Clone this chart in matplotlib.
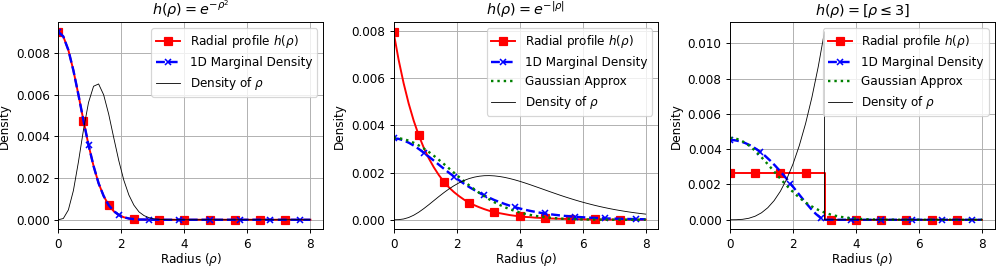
import numpy as np
import matplotlib
matplotlib.use("Agg")
import matplotlib.pyplot as plt

# shared radius grid (0 .. 8, step 0.16)
radius = np.linspace(0, 8, 51)

# ---------- panel 1: h = exp(-rho^2) ----------
profile1 = [0.00903, 0.00880, 0.00815, 0.00717, 0.00600, 0.00476, 0.00359, 0.00258, 0.00175, 0.00114,
            0.00070, 0.00041, 0.00023, 0.00012, 0.00006, 0.00003, 0.00001, 0.00001, 0.0, 0.0,
            0.0, 0.0, 0.0, 0.0, 0.0, 0.0, 0.0, 0.0, 0.0, 0.0,
            0.0, 0.0, 0.0, 0.0, 0.0, 0.0, 0.0, 0.0, 0.0, 0.0,
            0.0, 0.0, 0.0, 0.0, 0.0, 0.0, 0.0, 0.0, 0.0, 0.0,
            0.0]
marginal1 = [0.00903, 0.00880, 0.00815, 0.00717, 0.00600, 0.00476, 0.00359, 0.00258, 0.00175, 0.00114,
             0.00070, 0.00041, 0.00023, 0.00012, 0.00006, 0.00003, 0.00001, 0.00001, 0.0, 0.0,
             0.0, 0.0, 0.0, 0.0, 0.0, 0.0, 0.0, 0.0, 0.0, 0.0,
             0.0, 0.0, 0.0, 0.0, 0.0, 0.0, 0.0, 0.0, 0.0, 0.0,
             0.0, 0.0, 0.0, 0.0, 0.0, 0.0, 0.0, 0.0, 0.0, 0.0,
             0.0]
density1 = [0.0, 0.00006, 0.00047, 0.00140, 0.00278, 0.00432, 0.00563, 0.00641, 0.00652, 0.00600,
            0.00507, 0.00394, 0.00284, 0.00190, 0.00119, 0.00070, 0.00038, 0.00020, 0.00010, 0.00004,
            0.00002, 0.00001, 0.0, 0.0, 0.0, 0.0, 0.0, 0.0, 0.0, 0.0,
            0.0, 0.0, 0.0, 0.0, 0.0, 0.0, 0.0, 0.0, 0.0, 0.0,
            0.0, 0.0, 0.0, 0.0, 0.0, 0.0, 0.0, 0.0, 0.0, 0.0,
            0.0]

# ---------- panel 2: h = exp(-|rho|) ----------
profile2 = [0.00797, 0.00679, 0.00579, 0.00493, 0.00420, 0.00358, 0.00305, 0.00260, 0.00222, 0.00189,
            0.00161, 0.00137, 0.00117, 0.00100, 0.00085, 0.00072, 0.00062, 0.00053, 0.00045, 0.00038,
            0.00032, 0.00028, 0.00024, 0.00020, 0.00017, 0.00015, 0.00012, 0.00011, 0.00009, 0.00008,
            0.000066, 0.000056, 0.000048, 0.000041, 0.000035, 0.000029, 0.000025, 0.000021, 0.000018, 0.000016,
            0.000013, 0.000011, 0.000010, 0.000008, 0.000007, 0.000006, 0.000005, 0.000004, 0.000004, 0.000003,
            0.000003]
marginal2 = [0.003450, 0.003429, 0.003364, 0.003267, 0.003146, 0.003002, 0.002843, 0.002674, 0.002505, 0.002332,
             0.002160, 0.001991, 0.001832, 0.001673, 0.001525, 0.001387, 0.001263, 0.001142, 0.001032, 0.000932,
             0.000835, 0.000752, 0.000673, 0.000600, 0.000538, 0.000480, 0.000428, 0.000380, 0.000339, 0.000300,
             0.000266, 0.000236, 0.000209, 0.000184, 0.000163, 0.000144, 0.000127, 0.000112, 0.000099, 0.000087,
             0.000076, 0.000067, 0.000059, 0.000052, 0.000046, 0.000040, 0.000035, 0.000030, 0.000027, 0.000023,
             0.000020]
gauss2 = [0.003470, 0.003457, 0.003417, 0.003352, 0.003262, 0.003151, 0.003020, 0.002873, 0.002711, 0.002539,
          0.002360, 0.002176, 0.001992, 0.001809, 0.001630, 0.001458, 0.001293, 0.001139, 0.000995, 0.000863,
          0.000742, 0.000634, 0.000537, 0.000451, 0.000377, 0.000312, 0.000256, 0.000209, 0.000169, 0.000136,
          0.000108, 0.000085, 0.000067, 0.000052, 0.000040, 0.000031, 0.000023, 0.000018, 0.000013, 0.000010,
          0.000007, 0.000005, 0.000004, 0.000003, 0.000002, 0.000001, 0.000001, 0.000001, 0.0, 0.0,
          0.0]
density2 = [0.0, 0.000005, 0.000033, 0.000095, 0.000192, 0.000320, 0.000472, 0.000638, 0.000812, 0.000985,
            0.001151, 0.001306, 0.001444, 0.001565, 0.001666, 0.001746, 0.001805, 0.001845, 0.001867, 0.001871,
            0.001859, 0.001834, 0.001797, 0.001750, 0.001694, 0.001632, 0.001564, 0.001493, 0.001418, 0.001343,
            0.001267, 0.001191, 0.001117, 0.001043, 0.000972, 0.000904, 0.000838, 0.000775, 0.000716, 0.000660,
            0.000606, 0.000556, 0.000510, 0.000466, 0.000425, 0.000388, 0.000353, 0.000321, 0.000291, 0.000264,
            0.000239]

# ---------- panel 3: h = [rho <= 3] ----------
profile3_r = [0.0, 0.8, 1.6, 2.4, 3.0, 3.0, 3.2, 4.0, 4.8, 5.6, 6.4, 7.2, 8.0]
profile3 = [0.00266, 0.00266, 0.00266, 0.00266, 0.00266, 0.0, 0.0, 0.0, 0.0, 0.0, 0.0, 0.0, 0.0]
marginal3 = [0.004527, 0.004508, 0.004450, 0.004354, 0.004221, 0.004053, 0.003850, 0.003614, 0.003349, 0.003056,
             0.002740, 0.002404, 0.002054, 0.001694, 0.001332, 0.000978, 0.000642, 0.000340, 0.000099, 0.0,
             0.0, 0.0, 0.0, 0.0, 0.0, 0.0, 0.0, 0.0, 0.0, 0.0,
             0.0, 0.0, 0.0, 0.0, 0.0, 0.0, 0.0, 0.0, 0.0, 0.0,
             0.0, 0.0, 0.0, 0.0, 0.0, 0.0, 0.0, 0.0, 0.0, 0.0,
             0.0]
gauss3 = [0.004650, 0.004618, 0.004523, 0.004369, 0.004163, 0.003911, 0.003625, 0.003313, 0.002986, 0.002655,
          0.002328, 0.002013, 0.001717, 0.001444, 0.001198, 0.000980, 0.000791, 0.000630, 0.000494, 0.000383,
          0.000292, 0.000220, 0.000163, 0.000120, 0.000086, 0.000062, 0.000043, 0.000030, 0.000021, 0.000014,
          0.000009, 0.000006, 0.000004, 0.000002, 0.0, 0.0, 0.0, 0.0, 0.0, 0.0,
          0.0, 0.0, 0.0, 0.0, 0.0, 0.0, 0.0, 0.0, 0.0, 0.0,
          0.0]
density3_r = [0.0, 0.2, 0.4, 0.6, 0.8, 1.0, 1.2, 1.4, 1.6, 1.8, 2.0, 2.2, 2.4, 2.6, 2.8, 3.0, 3.0, 8.0]
density3 = [0.0, 0.0000032, 0.0000253, 0.0000853, 0.000202, 0.000395, 0.000683, 0.001084, 0.001618,
            0.002304, 0.003161, 0.004207, 0.005462, 0.006944, 0.008673, 0.010668, 0.0, 0.0]

titles = [r'$h(\rho) = e^{-\rho^2}$', r'$h(\rho) = e^{-|\rho|}$', r'$h(\rho) = [\rho \leq 3]$']

DPI = 86.4
fig = plt.figure(figsize=(996 / DPI, 266 / DPI), dpi=DPI)
lefts = [0.0585, 0.3951, 0.7329]
axes = [fig.add_axes([l, 0.1385, 0.2658, 0.7777]) for l in lefts]

red_kw = dict(color='red', linestyle='-', marker='s', lw=1.6, markersize=6)
blue_kw = dict(color='blue', linestyle='--', marker='x', lw=2, markersize=5.5, mew=1.3)
green_kw = dict(color='green', linestyle=':', lw=2)
black_kw = dict(color='black', lw=0.7)

# panel 1
ax = axes[0]
ax.plot(radius, profile1, label=r'Radial profile $h(\rho)$', markevery=slice(0, 50, 5), **red_kw)
ax.plot(radius, marginal1, label='1D Marginal Density', markevery=slice(0, 50, 6), **blue_kw)
ax.plot(radius, density1, label=r'Density of $\rho$', **black_kw)

# panel 2
ax = axes[1]
ax.plot(radius, profile2, label=r'Radial profile $h(\rho)$', markevery=slice(0, 50, 5), **red_kw)
ax.plot(radius, marginal2, label='1D Marginal Density', markevery=slice(0, 50, 6), **blue_kw)
ax.plot(radius, gauss2, label='Gaussian Approx', **green_kw)
ax.plot(radius, density2, label=r'Density of $\rho$', **black_kw)

# panel 3
ax = axes[2]
ax.plot(profile3_r, profile3, label=r'Radial profile $h(\rho)$',
        markevery=[0, 1, 2, 3, 6, 7, 8, 9, 10, 11], **red_kw)
ax.plot(radius, marginal3, label='1D Marginal Density', markevery=slice(0, 50, 6), **blue_kw)
ax.plot(radius, gauss3, label='Gaussian Approx', **green_kw)
ax.plot(density3_r, density3, label=r'Density of $\rho$', **black_kw)

for ax, t in zip(axes, titles):
    ax.set_title(t, fontsize=12)
    ax.set_xlabel(r'Radius ($\rho$)', labelpad=0)
    ax.set_ylabel('Density')
    ax.set_xlim(left=0)
    ax.grid(True)
    ax.legend(loc='upper right')

fig.savefig('out.png', dpi=DPI)
